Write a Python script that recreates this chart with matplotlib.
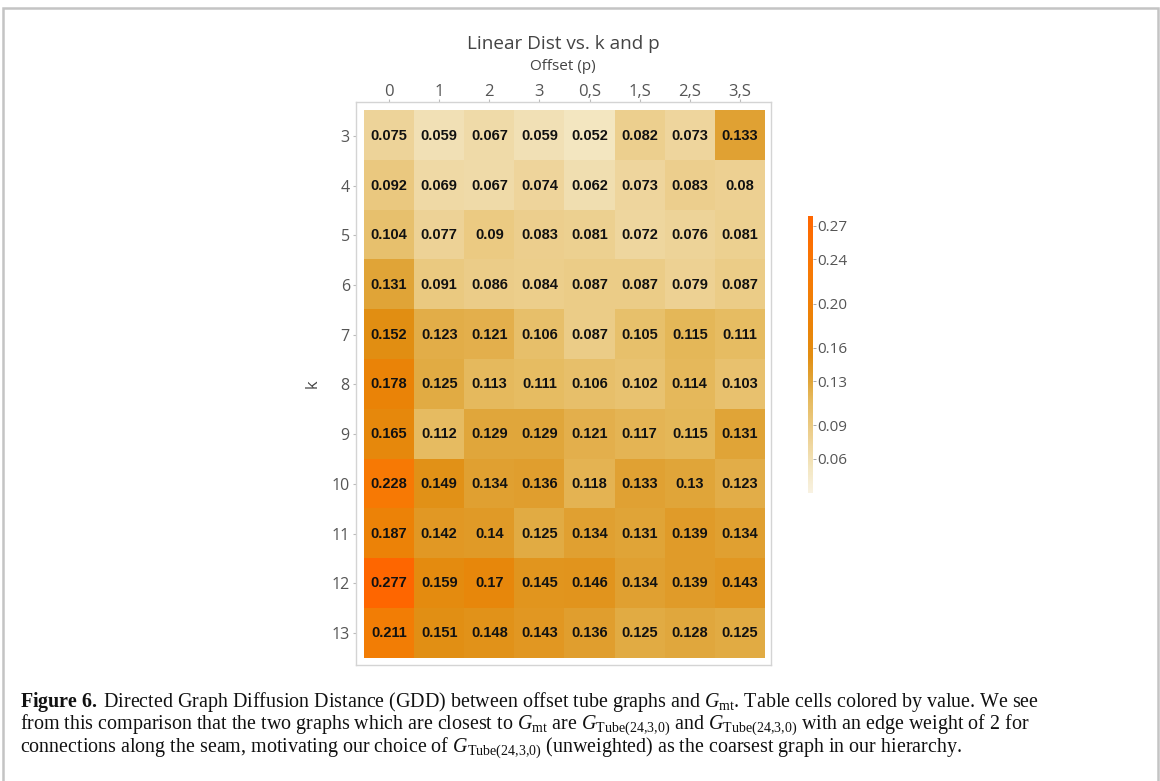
import numpy as np
import matplotlib.pyplot as plt
from matplotlib.colors import LinearSegmentedColormap, Normalize
from matplotlib.patches import Rectangle

# GDD values, rows are k = 3..13, columns are the offsets
k_values = [3, 4, 5, 6, 7, 8, 9, 10, 11, 12, 13]
offsets = ['0', '1', '2', '3', '0,S', '1,S', '2,S', '3,S']
dist = [
    [0.075, 0.059, 0.067, 0.059, 0.052, 0.082, 0.073, 0.133],
    [0.092, 0.069, 0.067, 0.074, 0.062, 0.073, 0.083, 0.08],
    [0.104, 0.077, 0.09, 0.083, 0.081, 0.072, 0.076, 0.081],
    [0.131, 0.091, 0.086, 0.084, 0.087, 0.087, 0.079, 0.087],
    [0.152, 0.123, 0.121, 0.106, 0.087, 0.105, 0.115, 0.111],
    [0.178, 0.125, 0.113, 0.111, 0.106, 0.102, 0.114, 0.103],
    [0.165, 0.112, 0.129, 0.129, 0.121, 0.117, 0.115, 0.131],
    [0.228, 0.149, 0.134, 0.136, 0.118, 0.133, 0.13, 0.123],
    [0.187, 0.142, 0.14, 0.125, 0.134, 0.131, 0.139, 0.134],
    [0.277, 0.159, 0.17, 0.145, 0.146, 0.134, 0.139, 0.143],
    [0.211, 0.151, 0.148, 0.143, 0.136, 0.125, 0.128, 0.125],
]
cbar_ticks = [0.06, 0.09, 0.13, 0.16, 0.20, 0.24, 0.27]

vmin, vmax = 0.029, 0.279
stops = [
    (0.029, '#f8f2e2'),
    (0.052, '#f3e6c0'),
    (0.075, '#eed49a'),
    (0.09, '#ebca82'),
    (0.112, '#e6bb60'),
    (0.131, '#e0a437'),
    (0.152, '#e28e12'),
    (0.178, '#ea8408'),
    (0.228, '#f77a05'),
    (0.279, '#ff6600'),
]
cmap = LinearSegmentedColormap.from_list(
    'gdd', [((v - vmin) / (vmax - vmin), c) for v, c in stops])
norm = Normalize(vmin=vmin, vmax=vmax)

plt.rcParams['mathtext.fontset'] = 'custom'
plt.rcParams['mathtext.rm'] = 'Liberation Serif'
plt.rcParams['mathtext.it'] = 'Liberation Serif:italic'
plt.rcParams['mathtext.bf'] = 'Liberation Serif:bold'

W, H = 1160, 781
fig = plt.figure(figsize=(W / 100, H / 100), dpi=100)

# outer frame of the figure box
fig.patches.append(Rectangle((3 / W, -0.05), 1155 / W, 1.05 - 7.5 / H,
                             transform=fig.transFigure, fill=False,
                             edgecolor='#c4c4c4', linewidth=1.8))

ax = fig.add_axes([356 / W, 1 - 665 / H, 415 / W, 563 / H])
data = np.array(dist)
ax.imshow(data, cmap=cmap, norm=norm, aspect='auto', interpolation='nearest')
for i in range(len(k_values)):
    for j in range(len(offsets)):
        ax.text(j, i, f'{dist[i][j]:g}', ha='center', va='center',
                fontsize=10.5, fontweight='bold', color='#111111',
                family='Liberation Sans')

ax.set_xlim(-0.66, len(offsets) - 0.5 + 0.12)
ax.set_ylim(len(k_values) - 0.5 + 0.14, -0.68)
ax.set_xticks(range(len(offsets)))
ax.set_xticklabels(offsets)
ax.set_yticks(range(len(k_values)))
ax.set_yticklabels(k_values)
ax.xaxis.tick_top()
ax.tick_params(axis='both', length=2.5, width=0.8, color='#bbbbbb',
               labelcolor='#555555', labelsize=11.5, pad=2)
ax.tick_params(axis='x', labelsize=12, length=2, pad=-0.5)
for lab in ax.get_xticklabels() + ax.get_yticklabels():
    lab.set_family('Open Sans')
for s in ax.spines.values():
    s.set_color('#d4d4d4')
    s.set_linewidth(1.0)

ax.set_ylabel('k', family='Open Sans', fontsize=12, color='#444444', labelpad=8)
fig.text(563 / W, 1 - 66 / H, 'Offset (p)', ha='center', va='center',
         family='Open Sans', fontsize=11, color='#444444')
fig.text(563 / W, 1 - 44 / H, 'Linear Dist vs. k and p', ha='center', va='center',
         family='Open Sans', fontsize=13.6, color='#444444')

# colour scale
cax = fig.add_axes([808 / W, 1 - 493 / H, 5 / W, 277 / H])
cb = fig.colorbar(plt.cm.ScalarMappable(norm=norm, cmap=cmap), cax=cax)
cb.outline.set_visible(False)
cb.set_ticks(cbar_ticks)
cb.set_ticklabels([f'{t:.2f}' for t in cbar_ticks])
cax.tick_params(length=2, width=0.6, color='#999999', labelcolor='#555555',
                labelsize=11, pad=1)
for lab in cax.get_yticklabels():
    lab.set_family('Open Sans')

# caption
cap = dict(family='Liberation Serif', fontsize=14.4, color='#111111',
           ha='left', va='baseline')
G_tube = r'$G_{\mathrm{Tube}(24{,}3{,}0)}$'
fig.text(20 / W, 1 - 707 / H,
         r'$\mathbf{Figure\ 6.}\;$Directed Graph Diffusion Distance (GDD) between offset '
         r'tube graphs and $G_{\mathrm{mt}}$. Table cells colored by value. We see', **cap)
fig.text(20 / W, 1 - 729 / H,
         r'from this comparison that the two graphs which are closest to $G_{\mathrm{mt}}$ are '
         + G_tube + ' and ' + G_tube + ' with an edge weight of 2 for', **cap)
fig.text(20 / W, 1 - 751.5 / H,
         'connections along the seam, motivating our choice of ' + G_tube
         + ' (unweighted) as the coarsest graph in our hierarchy.', **cap)

fig.savefig('out.png', dpi=100)
